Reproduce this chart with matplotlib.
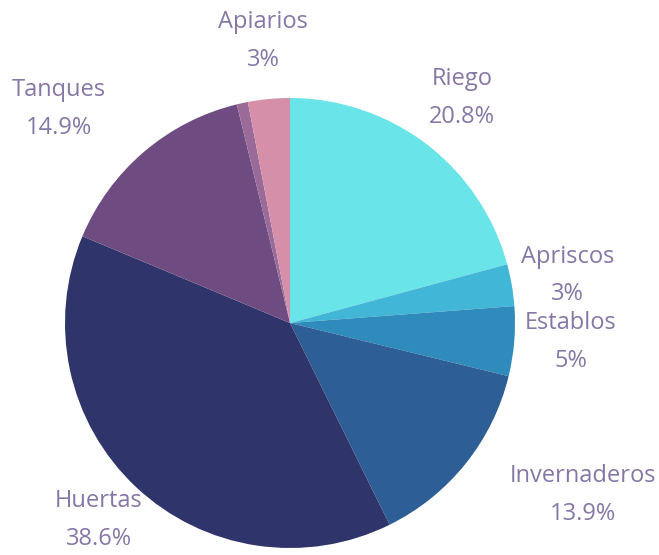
import numpy as np
import matplotlib
matplotlib.use("Agg")
import matplotlib.pyplot as plt

categories = ["Riego", "Apriscos", "Establos", "Invernaderos", "Huertas",
              "Tanques", "", "Apiarios"]
values = [20.8, 3, 5, 13.9, 38.6, 14.9, 0.8, 3]
pct_labels = ["20.8%", "3%", "5%", "13.9%", "38.6%", "14.9%", "", "3%"]
colors = ["#69E4E8", "#42B6D6", "#2E8BBB", "#2D5E96", "#2F346B",
          "#6E4C82", "#9A6A99", "#D68FA8"]

# label placement: (angle offset in degrees, radial distance)
label_pos = [(0, 1.26), (0, 1.25), (0.8, 1.25), (8.3, 1.51), (-1, 1.22),
             (6.7, 1.4), None, (0, 1.26)]

text_color = "#8677A6"

fig = plt.figure(figsize=(6.59, 5.55), dpi=100)
ax = fig.add_axes([0, 0, 1, 1])
wedges, _ = ax.pie(values, colors=colors, startangle=90, counterclock=False,
                   radius=1, center=(0, 0),
                   wedgeprops=dict(linewidth=0))

for w, cat, pct, pos in zip(wedges, categories, pct_labels, label_pos):
    if pos is None:
        continue
    mid = np.deg2rad((w.theta1 + w.theta2) / 2 + pos[0])
    x, y = pos[1] * np.cos(mid), pos[1] * np.sin(mid)
    ax.text(x, y, f"{cat}\n{pct}", ha="center", va="center",
            fontsize=17, color=text_color, family=["Open Sans", "DejaVu Sans"],
            linespacing=1.75)

ax.set_xlim(-290 / 225, (659 - 290) / 225)
ax.set_ylim(-(555 - 323) / 225, 323 / 225)
ax.set_aspect("equal")
ax.axis("off")

fig.savefig("out.png", dpi=100)
